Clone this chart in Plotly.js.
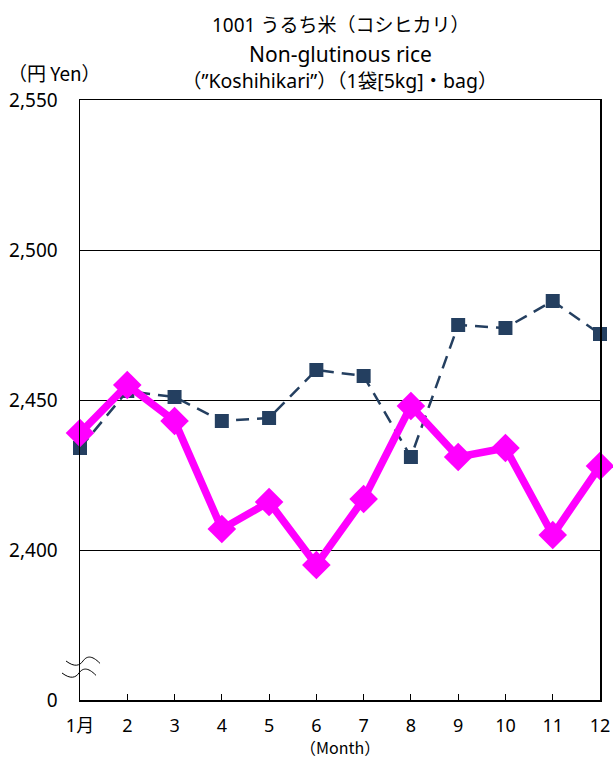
<!DOCTYPE html>
<html>
<head>
<meta charset="utf-8">
<script src="https://cdn.plot.ly/plotly-3.0.1.min.js"></script>
<style>html,body{margin:0;padding:0;background:#fff;}#chart{width:613px;height:760px;}</style>
</head>
<body>
<div id="chart"></div>
<script>
const months = [1,2,3,4,5,6,7,8,9,10,11,12];
const monthLabels = ["1月","2","3","4","5","6","7","8","9","10","11","12"];
const seriesNavy = [2434,2453,2451,2443,2444,2460,2458,2431,2475,2474,2483,2472];
const seriesMagenta = [2439,2455,2443,2407,2416,2395,2417,2448,2431,2434,2405,2428];
const yTickVals = [2350,2400,2450,2500,2550];
const yTickText = ["0","2,400","2,450","2,500","2,550"];
const titleLines = ["1001 うるち米（コシヒカリ）","Non-glutinous rice","（”Koshihikari”）（1袋[5kg]・bag）"];
const unitLabel = "（円 Yen）";
const monthTitle = "（Month）";

const W = 613, H = 760;
const L = 80, R = 600, T = 100, B = 700;
const px = x => (x - L) / (R - L);
const py = y => (B - y) / (B - T);
const FONT = '"Noto Sans", "Noto Sans CJK JP", sans-serif';
const FONT_CJK = '"Noto Sans CJK JP", "Noto Sans", sans-serif';

const traces = [
  {x: months, y: seriesNavy, type: 'scatter', mode: 'lines+markers',
   line: {color: '#243F60', width: 2.5, dash: '13px,8px'},
   marker: {symbol: 'square', size: 14, color: '#243F60'},
   cliponaxis: false, hoverinfo: 'skip'},
  {x: months, y: seriesMagenta, type: 'scatter', mode: 'lines+markers',
   line: {color: '#FF00FF', width: 7.5},
   marker: {symbol: 'diamond', size: 22, color: '#FF00FF'},
   cliponaxis: false, hoverinfo: 'skip'}
];

function wave(x0, y0, w, a) {
  const p = (x, y) => px(x).toFixed(4) + ',' + py(y).toFixed(4);
  return 'M' + p(x0, y0) + ' C' + p(x0 + w*0.25, y0 + a*1.6) + ' ' + p(x0 + w*0.4, y0 + a*1.2) + ' ' + p(x0 + w*0.5, y0)
    + ' S' + p(x0 + w*0.75, y0 - a*1.6) + ' ' + p(x0 + w, y0 + a*0.6);
}

const layout = {
  width: W, height: H,
  margin: {l: L, r: W - R, t: T, b: H - B, pad: 0},
  paper_bgcolor: '#fff', plot_bgcolor: '#fff',
  showlegend: false,
  font: {family: FONT, size: 18, color: '#000'},
  xaxis: {
    range: [1, 12], tickvals: months, ticktext: monthLabels,
    ticks: 'inside', ticklen: 6, tickcolor: '#000', tickwidth: 1,
    showline: true, linecolor: '#000', linewidth: 1.5, mirror: true,
    showgrid: false, zeroline: false, ticklabelstandoff: 9,
    tickfont: {family: FONT, size: 18, color: '#000'}, fixedrange: true
  },
  yaxis: {
    range: [2350, 2550], tickvals: yTickVals, ticktext: yTickText,
    ticks: 'outside', ticklen: 17, tickcolor: 'rgba(0,0,0,0)',
    showline: true, linecolor: '#000', linewidth: 1.5, mirror: true,
    showgrid: true, gridcolor: '#000', gridwidth: 1, zeroline: false,
    tickfont: {family: FONT, size: 19, color: '#000'}, fixedrange: true
  },
  shapes: [
    {type: 'path', xref: 'paper', yref: 'paper', path: wave(66, 661, 34, 4), line: {color: '#000', width: 1}},
    {type: 'path', xref: 'paper', yref: 'paper', path: wave(62, 673, 34, 4), line: {color: '#000', width: 1}}
  ],
  annotations: [
    {text: titleLines[0], xref: 'paper', yref: 'paper', x: px(340), y: py(25), showarrow: false, xanchor: 'center', yanchor: 'middle', font: {family: FONT, size: 19, color: '#000'}},
    {text: titleLines[1], xref: 'paper', yref: 'paper', x: px(340), y: py(54), showarrow: false, xanchor: 'center', yanchor: 'middle', font: {family: FONT, size: 21, color: '#000'}},
    {text: titleLines[2], xref: 'paper', yref: 'paper', x: px(340), y: py(81), showarrow: false, xanchor: 'center', yanchor: 'middle', font: {family: FONT, size: 19.5, color: '#000'}},
    {text: unitLabel, xref: 'paper', yref: 'paper', x: px(6), y: py(72), showarrow: false, xanchor: 'left', yanchor: 'middle', font: {family: FONT_CJK, size: 19, color: '#000'}},
    {text: monthTitle, xref: 'paper', yref: 'paper', x: px(340), y: py(747), showarrow: false, xanchor: 'center', yanchor: 'middle', font: {family: FONT_CJK, size: 16, color: '#000'}}
  ]
};

Plotly.newPlot('chart', traces, layout, {staticPlot: true, displayModeBar: false});
</script>
</body>
</html>
